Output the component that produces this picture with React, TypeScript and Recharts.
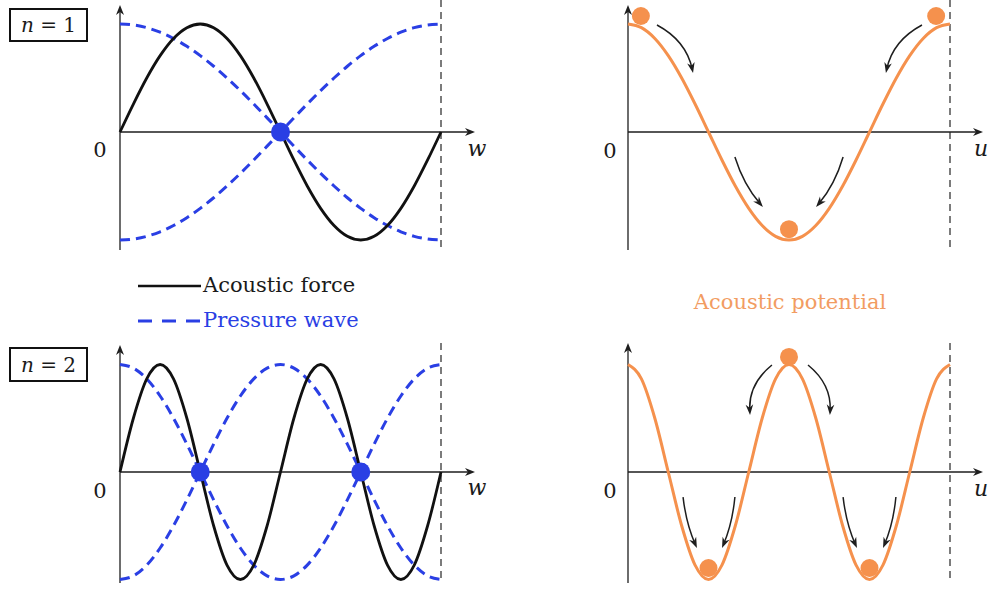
import React from 'react';
import { ComposedChart, Line, XAxis, YAxis, ReferenceLine, ReferenceDot } from 'recharts';

// ---------- data ----------
const T = [0, 0.0417, 0.0833, 0.125, 0.1667, 0.2083, 0.25, 0.2917, 0.3333, 0.375, 0.4167, 0.4583, 0.5,
  0.5417, 0.5833, 0.625, 0.6667, 0.7083, 0.75, 0.7917, 0.8333, 0.875, 0.9167, 0.9583, 1];

const N1_FORCE = [0, 0.259, 0.5, 0.707, 0.866, 0.966, 1, 0.966, 0.866, 0.707, 0.5, 0.259, 0,
  -0.259, -0.5, -0.707, -0.866, -0.966, -1, -0.966, -0.866, -0.707, -0.5, -0.259, 0];
const N1_PRESSURE = [1, 0.991, 0.966, 0.924, 0.866, 0.793, 0.707, 0.609, 0.5, 0.383, 0.259, 0.131, 0,
  -0.131, -0.259, -0.383, -0.5, -0.609, -0.707, -0.793, -0.866, -0.924, -0.966, -0.991, -1];
const N1_PRESSURE_MIRROR = [-1, -0.991, -0.966, -0.924, -0.866, -0.793, -0.707, -0.609, -0.5, -0.383, -0.259, -0.131, 0,
  0.131, 0.259, 0.383, 0.5, 0.609, 0.707, 0.793, 0.866, 0.924, 0.966, 0.991, 1];
const N1_POTENTIAL = [1, 0.966, 0.866, 0.707, 0.5, 0.259, 0, -0.259, -0.5, -0.707, -0.866, -0.966, -1,
  -0.966, -0.866, -0.707, -0.5, -0.259, 0, 0.259, 0.5, 0.707, 0.866, 0.966, 1];

const N2_FORCE = [0, 0.5, 0.866, 1, 0.866, 0.5, 0, -0.5, -0.866, -1, -0.866, -0.5, 0,
  0.5, 0.866, 1, 0.866, 0.5, 0, -0.5, -0.866, -1, -0.866, -0.5, 0];
const N2_PRESSURE = [1, 0.966, 0.866, 0.707, 0.5, 0.259, 0, -0.259, -0.5, -0.707, -0.866, -0.966, -1,
  -0.966, -0.866, -0.707, -0.5, -0.259, 0, 0.259, 0.5, 0.707, 0.866, 0.966, 1];
const N2_PRESSURE_MIRROR = [-1, -0.966, -0.866, -0.707, -0.5, -0.259, 0, 0.259, 0.5, 0.707, 0.866, 0.966, 1,
  0.966, 0.866, 0.707, 0.5, 0.259, 0, -0.259, -0.5, -0.707, -0.866, -0.966, -1];
const N2_POTENTIAL = [1, 0.866, 0.5, 0, -0.5, -0.866, -1, -0.866, -0.5, 0, 0.5, 0.866, 1,
  0.866, 0.5, 0, -0.5, -0.866, -1, -0.866, -0.5, 0, 0.5, 0.866, 1];

// pressure nodes (blue dots on the w axis)
const N1_NODES = [0.5];
const N2_NODES = [0.25, 0.75];

// particles (orange balls) on the potential
const N1_BALL_T = [0.04, 0.957, 0.5];
const N1_BALL_V = [1.074, 1.074, -0.9];
const N2_BALL_T = [0.5, 0.25, 0.75];
const N2_BALL_V = [1.07, -0.893, -0.893];

// motion arrows on the potential: [t1, v1, t2, v2, bend]
const N1_ARROWS = [
  [0.09, 0.991, 0.202, 0.546, 7],
  [0.913, 0.991, 0.801, 0.546, -7],
  [0.332, -0.231, 0.419, -0.694, -3],
  [0.668, -0.231, 0.584, -0.694, 3],
];
const N2_ARROWS = [
  [0.447, 0.995, 0.379, 0.53, -7],
  [0.559, 0.995, 0.627, 0.53, 7],
  [0.171, -0.233, 0.214, -0.707, -2],
  [0.332, -0.233, 0.292, -0.707, 2],
  [0.668, -0.233, 0.711, -0.707, -2],
  [0.832, -0.233, 0.792, -0.707, 2],
];

const N1_ROWS = T.map((t, i) => ({ t, force: N1_FORCE[i], p: N1_PRESSURE[i], pm: N1_PRESSURE_MIRROR[i], pot: N1_POTENTIAL[i] }));
const N2_ROWS = T.map((t, i) => ({ t, force: N2_FORCE[i], p: N2_PRESSURE[i], pm: N2_PRESSURE_MIRROR[i], pot: N2_POTENTIAL[i] }));

// ---------- styles ----------
const BLACK = '#111111';
const BLUE = '#2a3fe4';
const ORANGE = '#f5914d';
const ORANGE_TEXT = '#f29c62';
const AXIS = '#1e1e1e';
const FONT = "'DejaVu Serif', serif";

type Geo = {
  left: number; top: number; width: number; height: number;
  x0: number; x1: number; zeroY: number; unit: number;
  axisTop: number; axisBottom: number; tip: number; dashTop: number; dashBottom: number;
};

const GEO_TL: Geo = { left: 90, top: 0, width: 405, height: 262, x0: 120, x1: 441, zeroY: 132, unit: 108, axisTop: 5, axisBottom: 250, tip: 475, dashTop: 0, dashBottom: 250 };
const GEO_TR: Geo = { left: 598, top: 0, width: 392, height: 262, x0: 628, x1: 950, zeroY: 132, unit: 108, axisTop: 5, axisBottom: 250, tip: 983, dashTop: 0, dashBottom: 250 };
const GEO_BL: Geo = { left: 90, top: 335, width: 405, height: 255, x0: 120, x1: 441, zeroY: 472, unit: 107.5, axisTop: 345, axisBottom: 583, tip: 475, dashTop: 343, dashBottom: 583 };
const GEO_BR: Geo = { left: 598, top: 335, width: 392, height: 255, x0: 628, x1: 950, zeroY: 472, unit: 107.5, axisTop: 343, axisBottom: 583, tip: 983, dashTop: 343, dashBottom: 583 };

const tOf = (g: Geo, px: number) => (px - g.x0) / (g.x1 - g.x0);
const vOf = (g: Geo, py: number) => (g.zeroY - py) / g.unit;

function headPath(x: number, y: number, ux: number, uy: number, L: number, W: number) {
  const nx = -uy, ny = ux;
  const bx = x - ux * L, by = y - uy * L;
  const mx = x - ux * L * 0.7, my = y - uy * L * 0.7;
  return `M${x},${y} L${bx + nx * W},${by + ny * W} L${mx},${my} L${bx - nx * W},${by - ny * W} Z`;
}

const AxisArrow = (p: any) => {
  const { x1, y1, x2, y2 } = p;
  const len = Math.hypot(x2 - x1, y2 - y1) || 1;
  const ux = (x2 - x1) / len, uy = (y2 - y1) / len;
  return (
    <g>
      <line x1={x1} y1={y1} x2={x2 - ux * 3} y2={y2 - uy * 3} stroke={AXIS} strokeWidth={1.3} />
      <path d={headPath(x2, y2, ux, uy, 10, 4)} fill={AXIS} stroke="none" />
    </g>
  );
};

const makeCurvedArrow = (bend: number) => (p: any) => {
  const { x1, y1, x2, y2 } = p;
  const dx = x2 - x1, dy = y2 - y1;
  const len = Math.hypot(dx, dy) || 1;
  const nx = dy / len, ny = -dx / len;
  const cx = (x1 + x2) / 2 + nx * bend * 2;
  const cy = (y1 + y2) / 2 + ny * bend * 2;
  const tx = x2 - cx, ty = y2 - cy;
  const tl = Math.hypot(tx, ty) || 1;
  const ux = tx / tl, uy = ty / tl;
  return (
    <g>
      <path d={`M${x1},${y1} Q${cx},${cy} ${x2 - ux * 4},${y2 - uy * 4}`} fill="none" stroke={AXIS} strokeWidth={1.5} />
      <path d={headPath(x2, y2, ux, uy, 10.5, 3.8)} fill={AXIS} stroke="none" />
    </g>
  );
};

const Frame = ({ g, children, data }: { g: Geo; children: React.ReactNode; data: any[] }) => {
  const xd = [tOf(g, g.left), tOf(g, g.left + g.width)];
  const yd = [vOf(g, g.top + g.height), vOf(g, g.top)];
  return (
    <div style={{ position: 'absolute', left: g.left, top: g.top, width: g.width, height: g.height }}>
      <ComposedChart width={g.width} height={g.height} data={data} margin={{ top: 0, right: 0, bottom: 0, left: 0 }}>
        <XAxis type="number" dataKey="t" domain={xd} hide allowDataOverflow />
        <YAxis type="number" domain={yd} hide allowDataOverflow />
        <ReferenceLine
          segment={[{ x: 1, y: vOf(g, g.dashTop) }, { x: 1, y: vOf(g, g.dashBottom) }]}
          stroke="#444" strokeWidth={1.4} strokeDasharray="7 5" ifOverflow="visible"
        />
        <ReferenceLine
          segment={[{ x: 0, y: vOf(g, g.axisBottom) }, { x: 0, y: vOf(g, g.axisTop) }]}
          shape={AxisArrow} ifOverflow="visible"
        />
        <ReferenceLine
          segment={[{ x: 0, y: 0 }, { x: tOf(g, g.tip), y: 0 }]}
          shape={AxisArrow} ifOverflow="visible"
        />
        {children}
      </ComposedChart>
    </div>
  );
};

const ForcePanel = ({ g, data, nodes }: { g: Geo; data: any[]; nodes: number[] }) => (
  <Frame g={g} data={data}>
    {nodes.map((t) => (
      <ReferenceDot key={'n' + t} x={t} y={0} r={9.5} fill={BLUE} stroke="none" ifOverflow="visible" />
    ))}
    <Line type="monotone" dataKey="p" stroke={BLUE} strokeWidth={3} strokeDasharray="10 6" dot={false} activeDot={false} isAnimationActive={false} />
    <Line type="monotone" dataKey="pm" stroke={BLUE} strokeWidth={3} strokeDasharray="10 6" dot={false} activeDot={false} isAnimationActive={false} />
    <Line type="monotone" dataKey="force" stroke={BLACK} strokeWidth={2.8} dot={false} activeDot={false} isAnimationActive={false} />
  </Frame>
);

const PotentialPanel = ({ g, data, ballT, ballV, arrows }: { g: Geo; data: any[]; ballT: number[]; ballV: number[]; arrows: number[][] }) => (
  <Frame g={g} data={data}>
    <Line type="monotone" dataKey="pot" stroke={ORANGE} strokeWidth={3} dot={false} activeDot={false} isAnimationActive={false} />
    {ballT.map((t, i) => (
      <ReferenceDot key={'b' + i} x={t} y={ballV[i]} r={9} fill={ORANGE} stroke="none" ifOverflow="visible" />
    ))}
    {arrows.map((a, i) => (
      <ReferenceLine key={'a' + i} segment={[{ x: a[0], y: a[1] }, { x: a[2], y: a[3] }]} shape={makeCurvedArrow(a[4])} ifOverflow="visible" />
    ))}
  </Frame>
);

const Txt = ({ x, y, children, size = 21, color = '#1a1a1a', italic = false, align = 'center' }: any) => (
  <div
    style={{
      position: 'absolute', left: x, top: y - size / 2, fontFamily: FONT, fontSize: size, lineHeight: 1,
      color, fontStyle: italic ? 'italic' : 'normal', whiteSpace: 'nowrap',
      transform: align === 'center' ? 'translateX(-50%)' : 'none',
    }}
  >
    {children}
  </div>
);

const NBox = ({ top, height, n }: { top: number; height: number; n: string }) => (
  <div
    style={{
      position: 'absolute', left: 9, top, width: 79, height, boxSizing: 'border-box', border: '2px solid #111',
      display: 'flex', alignItems: 'center', justifyContent: 'center', fontFamily: FONT, fontSize: 20, color: '#1a1a1a',
    }}
  >
    <span style={{ fontStyle: 'italic' }}>n</span>
    <span>&nbsp;=&nbsp;{n}</span>
  </div>
);

export default function App() {
  return (
    <div style={{ position: 'absolute', left: 0, top: 0, width: 990, height: 590, overflow: 'hidden', background: '#fff' }}>
      <ForcePanel g={GEO_TL} data={N1_ROWS} nodes={N1_NODES} />
      <PotentialPanel g={GEO_TR} data={N1_ROWS} ballT={N1_BALL_T} ballV={N1_BALL_V} arrows={N1_ARROWS} />
      <ForcePanel g={GEO_BL} data={N2_ROWS} nodes={N2_NODES} />
      <PotentialPanel g={GEO_BR} data={N2_ROWS} ballT={N2_BALL_T} ballV={N2_BALL_V} arrows={N2_ARROWS} />

      <NBox top={8} height={34} n="1" />
      <NBox top={347} height={35} n="2" />

      <Txt x={100} y={150}>0</Txt>
      <Txt x={610} y={151}>0</Txt>
      <Txt x={100} y={491}>0</Txt>
      <Txt x={610} y={491}>0</Txt>
      <Txt x={477} y={149} size={22} italic>w</Txt>
      <Txt x={477} y={488} size={22} italic>w</Txt>
      <Txt x={981} y={149} size={22} italic>u</Txt>
      <Txt x={981} y={489} size={22} italic>u</Txt>

      <svg style={{ position: 'absolute', left: 0, top: 0 }} width={990} height={590} pointerEvents="none">
        <line x1={138} y1={286} x2={201} y2={286} stroke={BLACK} strokeWidth={2.6} />
        <line x1={138} y1={321} x2={201} y2={321} stroke={BLUE} strokeWidth={2.8} strokeDasharray="14 10" />
      </svg>
      <div style={{ position: 'absolute', left: 203, top: 275, fontFamily: FONT, fontSize: 21, lineHeight: 1, color: '#1a1a1a', whiteSpace: 'nowrap' }}>
        Acoustic force
      </div>
      <div style={{ position: 'absolute', left: 203, top: 310, fontFamily: FONT, fontSize: 21, lineHeight: 1, color: BLUE, whiteSpace: 'nowrap' }}>
        Pressure wave
      </div>
      <div style={{ position: 'absolute', left: 790, top: 292, transform: 'translateX(-50%)', fontFamily: FONT, fontSize: 21, lineHeight: 1, color: ORANGE_TEXT, whiteSpace: 'nowrap' }}>
        Acoustic potential
      </div>
    </div>
  );
}
